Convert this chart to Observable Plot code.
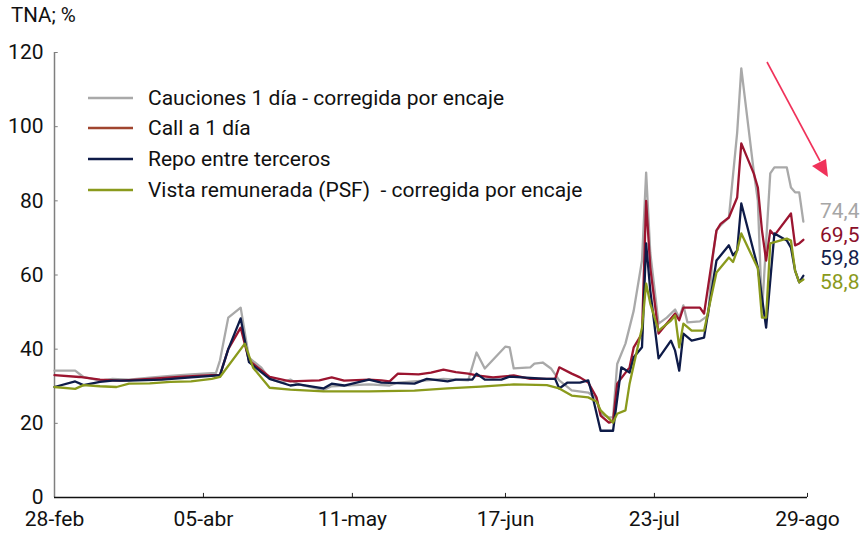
<!DOCTYPE html>
<html>
<head>
<meta charset="utf-8">
<script src="https://cdn.jsdelivr.net/npm/d3@7"></script>
<script src="https://cdn.jsdelivr.net/npm/@observablehq/plot@0.6"></script>
<style>
  html, body { margin: 0; padding: 0; background: #fff; }
  #wrap { position: relative; width: 865px; height: 534px; font-family: Roboto, "Noto Sans", sans-serif; color: #111; }
  #title { position: absolute; left: 11px; top: 3px; font-size: 20.5px; }
  .leg { position: absolute; left: 88px; font-size: 21px; display: flex; align-items: center; white-space: pre; }
  .leg svg { margin-right: 15px; }
  .end { position: absolute; left: 820px; font-size: 21px; }
  #arrow { position: absolute; left: 0; top: 0; pointer-events: none; }
</style>
</head>
<body>
<div id="wrap">
  <div id="chart"></div>
  <div id="title">TNA; %</div>
</div>
<script>
// ---- data ----
const seriesNames = ["Cauciones 1 día - corregida por encaje", "Call a 1 día", "Repo entre terceros", "Vista remunerada (PSF)  - corregida por encaje"];
const seriesColors = ["#a9a9a9", "#9b1530", "#0e1b48", "#8a9a1c"];
const legendColors = ["#a9a9a9", "#a0452f", "#0e1b48", "#8a9a1c"];
const endLabels = ["74,4", "69,5", "59,8", "58,8"];
const endLabelColors = ["#a6a6a6", "#8b0f2a", "#13204a", "#8a9a1c"];

const cauDates = ["02-28","03-05","03-07","03-11","03-14","03-18","03-23","03-28","04-02","04-07","04-08","04-09","04-11","04-14","04-16","04-19","04-21","04-24","04-26","04-28","05-04","05-06","05-15","05-20","05-22","05-29","06-02","06-08","06-10","06-12","06-17","06-18","06-19","06-23","06-24","06-26","06-28","06-30","07-03","07-07","07-09","07-10","07-12","07-13","07-14","07-16","07-18","07-20","07-21","07-22","07-24","07-26","07-28","07-29","07-30","07-31","08-03","08-05","08-06","08-07","08-08","08-10","08-12","08-13","08-16","08-17","08-18","08-20","08-21","08-24","08-25","08-26","08-27","08-28"];
const cauVals = [34.2,34.2,32.5,31.5,32.0,31.8,32.3,32.8,33.2,33.5,33.5,37,48.5,51.2,37.7,35,32,31,31.8,30.5,29,30,30.5,30.2,31,31.6,32,31.6,39.1,34.8,40.7,40.5,34.8,35.1,36.1,36.4,34.8,31.6,28.9,28.3,26.7,22.6,21.6,21.6,36,41.5,50.4,63.9,87.6,66,46.9,48.5,50.7,48.5,51.8,47.2,47.5,49.1,63.9,72,73.4,75.5,98.4,115.7,88,80,50,87.4,89,89,83.6,82.3,82.3,74.4];

const callDates = ["02-28","03-06","03-11","03-16","03-23","03-30","04-07","04-09","04-11","04-14","04-16","04-21","04-26","05-03","05-06","05-09","05-15","05-18","05-20","05-22","05-27","05-30","06-02","06-05","06-08","06-10","06-14","06-19","06-23","06-29","06-30","07-03","07-05","07-07","07-09","07-10","07-12","07-13","07-14","07-17","07-18","07-20","07-21","07-22","07-24","07-26","07-28","07-29","07-30","08-03","08-04","08-07","08-08","08-10","08-12","08-13","08-16","08-17","08-18","08-19","08-20","08-21","08-25","08-26","08-27","08-28"];
const callVals = [33,32.5,31.8,31.5,32,32.5,33,33,40,45.8,37,32.5,31.3,31.6,32.4,31.5,31.8,31.6,31.3,33.4,33.2,33.7,34.5,33.8,33.4,32.9,32.4,32.9,32,32,35.1,33.4,32.4,31,27,22.1,20.2,20.5,30.7,35.1,40.5,44.2,80,62,44.2,46.9,49.6,47.8,51.2,51.2,49.6,72,73.8,75.5,80.9,95.5,87.4,83.6,72,63.9,72,70.7,76.6,68,68.5,69.5];

const repoDates = ["02-28","03-05","03-07","03-11","03-14","03-18","03-26","04-02","04-07","04-09","04-11","04-14","04-16","04-21","04-26","04-28","05-04","05-06","05-09","05-15","05-18","05-26","05-29","06-03","06-05","06-09","06-10","06-12","06-16","06-18","06-27","06-29","06-30","07-02","07-05","07-07","07-08","07-10","07-13","07-15","07-17","07-18","07-20","07-21","07-22","07-24","07-27","07-28","07-29","07-30","08-01","08-04","08-07","08-10","08-11","08-12","08-13","08-17","08-19","08-21","08-24","08-25","08-26","08-27","08-28"];
const repoVals = [29.8,31.3,30.3,31.2,31.5,31.5,31.8,32.4,32.8,33,40,48.3,36.5,32,30.2,30.5,29.4,30.7,30.2,31.8,31,30.7,32,31.3,31.8,31.8,33.4,31.8,31.8,32.6,32,32,29.4,31,31,31.6,27.5,18,18,35.1,33.7,37.8,40.5,68.5,55.8,37.5,42.3,39.6,34.2,44.2,42.3,43.1,63.9,68,65.3,66.6,79.3,62,45.8,71.2,69.3,67.4,61.2,58,59.8];

const vistaDates = ["02-28","03-05","03-07","03-11","03-15","03-18","03-23","03-28","04-02","04-07","04-09","04-15","04-17","04-21","04-26","05-04","05-15","05-26","06-03","06-11","06-19","06-27","06-30","07-03","07-07","07-09","07-10","07-13","07-14","07-16","07-17","07-20","07-21","07-22","07-24","07-27","07-28","07-29","07-30","08-01","08-04","08-07","08-10","08-11","08-12","08-13","08-17","08-18","08-19","08-20","08-24","08-25","08-26","08-27","08-28"];
const vistaVals = [29.8,29.3,30.3,30,29.8,30.7,30.8,31.2,31.3,32,32.5,41.5,35,29.6,29.1,28.6,28.6,28.8,29.4,29.9,30.5,30.3,29.4,27.5,27,25.9,23.5,20.2,22.6,23.5,30.7,45.8,57.7,52.3,45,47.7,49.1,40.5,46.9,45,45,60.7,64.7,63.5,66.6,71.2,61.8,48.5,48.5,68.5,69.8,69.3,61.2,58,58.8];

const xTickDates = ["02-28","04-05","05-11","06-17","07-23","08-29"];
const monthNames = ["ene","feb","mar","abr","may","jun","jul","ago","sep","oct","nov","dic"];
const yTicks = [0, 20, 40, 60, 80, 100, 120];
const year = 2025;

// ---- build ----
const parse = md => new Date(`${year}-${md}T00:00:00Z`);
const allDates = [cauDates, callDates, repoDates, vistaDates];
const allVals = [cauVals, callVals, repoVals, vistaVals];
const rows = [];
allDates.forEach((ds, s) => ds.forEach((d, i) => rows.push({series: seriesNames[s], date: parse(d), value: allVals[s][i]})));

const xt = xTickDates.map(parse);
const x0 = xt[0], x1 = xt[xt.length - 1];
const oneDay = 24 * 3600 * 1000;
const fmt = d => String(d.getUTCDate()).padStart(2, "0") + "-" + monthNames[d.getUTCMonth()];

const chart = Plot.plot({
  width: 865,
  height: 534,
  marginTop: 52,
  marginBottom: 37,
  marginLeft: 54,
  marginRight: 58,
  style: {fontFamily: "Roboto, 'Noto Sans', sans-serif", fontSize: "21px", color: "#111", background: "transparent", overflow: "visible"},
  x: {type: "utc", domain: [x0, x1]},
  y: {domain: [0, 120]},
  color: {domain: seriesNames, range: seriesColors},
  marks: [
    Plot.axisY({ticks: yTicks, tickSize: 0, tickPadding: 11, label: null, fontSize: 21}),
    Plot.axisX({ticks: xt, tickSize: 0, tickPadding: 14, label: null, tickFormat: fmt, fontSize: 21}),
    Plot.ruleY(yTicks, {x1: x0, x2: new Date(+x0 + oneDay * 0.9), stroke: "#7f7f7f", strokeWidth: 1}),
    Plot.ruleX(xt, {y1: 0, y2: 1.1, stroke: "#222", strokeWidth: 1}),
    Plot.ruleX([x0], {y1: 0, y2: 120, stroke: "#7f7f7f", strokeWidth: 1.5}),
    Plot.ruleY([0], {x1: x0, x2: x1, stroke: "#111", strokeWidth: 1.6}),
    Plot.line(rows, {x: "date", y: "value", z: "series", stroke: "series", strokeWidth: 2.3, curve: "linear"})
  ]
});
document.getElementById("chart").appendChild(chart);

// ---- legend ----
const wrap = document.getElementById("wrap");
const legendTops = [99, 129, 160, 191];
seriesNames.forEach((n, i) => {
  const div = document.createElement("div");
  div.className = "leg";
  div.style.top = (legendTops[i] - 13) + "px";
  div.innerHTML = `<svg width="45" height="6"><line x1="0" x2="45" y1="3" y2="3" stroke="${legendColors[i]}" stroke-width="2.4"/></svg><span></span>`;
  div.querySelector("span").textContent = n;
  wrap.appendChild(div);
});

// ---- end labels ----
const endTops = [212, 236, 259, 283];
endLabels.forEach((t, i) => {
  const div = document.createElement("div");
  div.className = "end";
  div.style.top = (endTops[i] - 13) + "px";
  div.style.color = endLabelColors[i];
  div.textContent = t;
  wrap.appendChild(div);
});

// ---- arrow annotation ----
const ns = "http://www.w3.org/2000/svg";
const a = document.createElementNS(ns, "svg");
a.setAttribute("id", "arrow");
a.setAttribute("width", 865);
a.setAttribute("height", 534);
a.innerHTML = `<line x1="767" y1="62" x2="820" y2="161" stroke="#f0325a" stroke-width="1.6"/>
<polygon points="828,177 812,166 826,159" fill="#f0325a"/>`;
wrap.appendChild(a);
</script>
</body>
</html>
